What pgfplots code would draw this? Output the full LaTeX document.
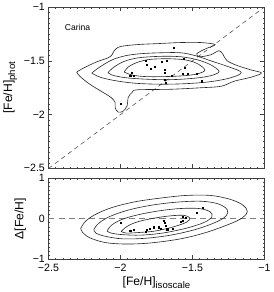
\documentclass[border=0pt]{standalone}
\usepackage{pgfplots}
\pgfplotsset{compat=1.18}
\usepackage{fontspec}
\setmainfont{Liberation Sans}
\begin{document}
\begin{tikzpicture}
\pgfplotsset{
  every axis/.append style={
    scale only axis, width=214pt,
    xmin=-2.5, xmax=-1,
    xtick={-2.5,-2,-1.5,-1},
    minor x tick num=9,
    axis line style={line width=0.8pt, black!75},
    tick style={black!75, line width=0.5pt},
    major tick length=4pt, minor tick length=1.6pt,
    tick label style={font=\fontsize{10.5}{12}\selectfont},
    label style={font=\fontsize{12}{14}\selectfont},
  },
  cont/.style={black!85, line width=0.6pt, smooth, tension=0.55, mark=none},
  pts/.style={only marks, mark=square*, mark size=0.55pt, black},
}
% ---------------- top panel ----------------
\begin{axis}[at={(0,90pt)}, height=160pt,
  ymin=-2.5, ymax=-1, ytick={-2.5,-2,-1.5,-1},
  yticklabels={\raisebox{2pt}{−2.5},−2,−1.5,−1},
  minor y tick num=9, xticklabels={},
  ylabel={[Fe/H]\raisebox{-0.45ex}{\fontsize{9.5}{10}\selectfont phot}},
]
\addplot[black!70, line width=0.55pt, dash pattern=on 4.5pt off 3.5pt] coordinates {(-2.5,-2.5) (-1,-1)};
% outer contour
\addplot[cont] coordinates {
(-2.304,-1.604) (-2.255,-1.566) (-2.164,-1.509) (-2.086,-1.472) (-2.058,-1.443)
(-2.044,-1.406) (-2.002,-1.368) (-1.883,-1.349) (-1.743,-1.340) (-1.582,-1.330)
(-1.442,-1.330) (-1.343,-1.349) (-1.407,-1.387) (-1.470,-1.434) (-1.449,-1.462)
(-1.372,-1.443) (-1.315,-1.406) (-1.287,-1.443) (-1.259,-1.500) (-1.182,-1.547)
(-1.091,-1.585) (-1.021,-1.613) (-1.091,-1.651) (-1.210,-1.689) (-1.301,-1.736)
(-1.442,-1.750) (-1.652,-1.764) (-1.883,-1.769) (-1.918,-1.792) (-1.946,-1.840)
(-1.953,-1.915) (-1.981,-1.967) (-2.016,-1.976) (-2.037,-1.934) (-2.037,-1.887)
(-2.065,-1.840) (-2.122,-1.792) (-2.213,-1.717) (-2.283,-1.642) (-2.304,-1.604)};
\addplot[cont] coordinates {
(-2.199,-1.613) (-2.143,-1.557) (-2.058,-1.491) (-1.967,-1.453) (-1.862,-1.434)
(-1.722,-1.425) (-1.582,-1.425) (-1.477,-1.453) (-1.372,-1.500) (-1.245,-1.557)
(-1.161,-1.608) (-1.231,-1.656) (-1.372,-1.693) (-1.547,-1.712) (-1.722,-1.717)
(-1.897,-1.708) (-2.037,-1.684) (-2.143,-1.651) (-2.199,-1.613)};
\addplot[cont] coordinates {
(-2.086,-1.608) (-2.044,-1.557) (-1.974,-1.505) (-1.876,-1.472) (-1.722,-1.458)
(-1.582,-1.462) (-1.463,-1.491) (-1.372,-1.538) (-1.315,-1.599) (-1.372,-1.637)
(-1.477,-1.660) (-1.652,-1.675) (-1.827,-1.670) (-1.967,-1.656) (-2.058,-1.632)
(-2.086,-1.608)};
\addplot[cont] coordinates {
(-1.974,-1.604) (-1.946,-1.557) (-1.883,-1.514) (-1.792,-1.486) (-1.652,-1.481)
(-1.533,-1.495) (-1.456,-1.533) (-1.414,-1.585) (-1.456,-1.618) (-1.547,-1.637)
(-1.687,-1.646) (-1.827,-1.646) (-1.918,-1.632) (-1.974,-1.604)};
\addplot[pts] coordinates {
(-1.998,-1.896) (-1.921,-1.610) (-1.909,-1.635) (-1.932,-1.642) (-1.822,-1.500)
(-1.820,-1.538) (-1.792,-1.569) (-1.764,-1.557) (-1.715,-1.507) (-1.680,-1.500)
(-1.692,-1.579) (-1.692,-1.610) (-1.687,-1.705) (-1.692,-1.673) (-1.645,-1.642)
(-1.629,-1.380) (-1.563,-1.484) (-1.554,-1.563) (-1.570,-1.616) (-1.530,-1.616)
(-1.472,-1.619) (-1.433,-1.689)};
\node[anchor=west, font=\fontsize{8.5}{10}\selectfont] at (axis cs:-2.41,-1.19) {Carina};
\end{axis}
% ---------------- bottom panel ----------------
\begin{axis}[at={(0,0)}, height=80.7pt,
  ymin=-1, ymax=1, ytick={-1,0,1},
  yticklabels={\raisebox{1.5pt}{−1},0,\raisebox{-0.5pt}{1}},
  minor y tick num=9,
  xticklabels={−2.5,−2,−1.5,−1},
  xticklabel style={yshift=-1.5pt},
  ylabel={Δ[Fe/H]},
  xlabel={[Fe/H]\raisebox{-0.45ex}{\fontsize{9.5}{10}\selectfont isoscale}},
  xlabel style={yshift=2pt},
]
\addplot[black!50, line width=1pt, dash pattern=on 6pt off 4pt] coordinates {(-2.5,0) (-1,0)};
\addplot[cont] coordinates {
(-2.276,-0.238) (-2.241,-0.059) (-2.171,0.108) (-2.058,0.274) (-1.897,0.415)
(-1.722,0.505) (-1.547,0.569) (-1.372,0.569) (-1.231,0.467) (-1.147,0.326)
(-1.119,0.172) (-1.154,0.018) (-1.245,-0.136) (-1.407,-0.341) (-1.582,-0.495)
(-1.792,-0.597) (-1.967,-0.623) (-2.108,-0.585) (-2.213,-0.469) (-2.262,-0.341)
(-2.276,-0.238)};
\addplot[cont] coordinates {
(-2.185,-0.264) (-2.150,-0.110) (-2.072,0.056) (-1.946,0.210) (-1.792,0.326)
(-1.617,0.403) (-1.442,0.428) (-1.322,0.364) (-1.259,0.223) (-1.266,0.069)
(-1.336,-0.085) (-1.477,-0.264) (-1.652,-0.405) (-1.827,-0.482) (-1.988,-0.495)
(-2.108,-0.431) (-2.171,-0.354) (-2.185,-0.264)};
\addplot[cont] coordinates {
(-2.093,-0.303) (-2.058,-0.149) (-1.981,-0.008) (-1.862,0.108) (-1.722,0.197)
(-1.582,0.249) (-1.456,0.249) (-1.379,0.172) (-1.365,0.044) (-1.421,-0.097)
(-1.547,-0.238) (-1.708,-0.354) (-1.862,-0.405) (-1.988,-0.392) (-2.065,-0.354)
(-2.093,-0.303)};
\addplot[cont] coordinates {
(-1.995,-0.315) (-1.953,-0.187) (-1.876,-0.072) (-1.757,0.018) (-1.652,0.069)
(-1.561,0.082) (-1.519,0.018) (-1.540,-0.085) (-1.631,-0.200) (-1.757,-0.303)
(-1.876,-0.341) (-1.960,-0.354) (-1.995,-0.315)};
\addplot[pts] coordinates {
(-1.998,-0.10) (-1.927,-0.30) (-1.909,-0.27) (-1.932,-0.29) (-1.825,-0.32)
(-1.820,-0.28) (-1.797,-0.24) (-1.769,-0.21) (-1.722,-0.24) (-1.734,-0.21)
(-1.699,-0.04) (-1.694,-0.11) (-1.687,-0.17) (-1.675,-0.26) (-1.640,-0.24)
(-1.570,0.04) (-1.547,0.03) (-1.582,-0.08) (-1.570,-0.05) (-1.472,0.15)
(-1.430,0.26)};
\end{axis}
\end{tikzpicture}
\end{document}
